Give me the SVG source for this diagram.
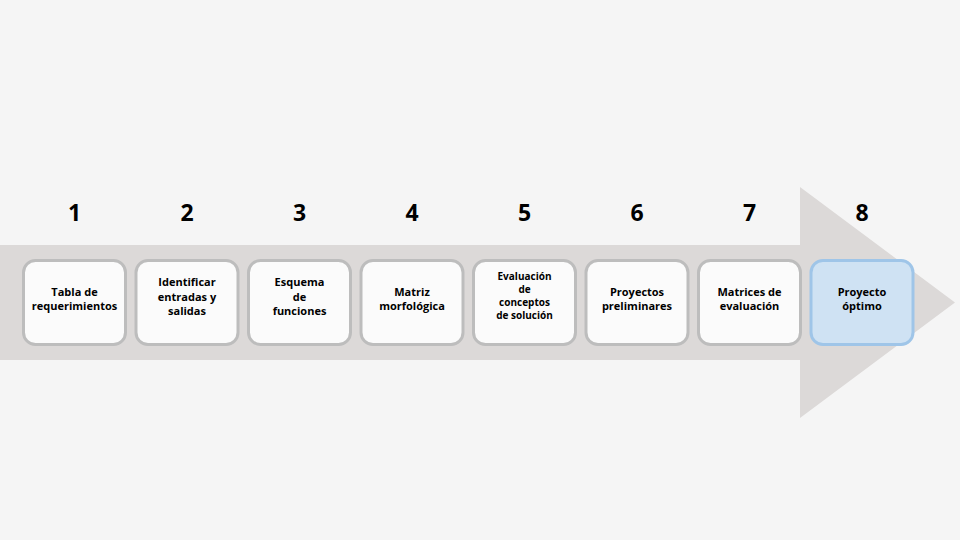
<svg xmlns="http://www.w3.org/2000/svg" width="960" height="540" viewBox="0 0 960 540">
<style>
.box{fill:#fbfbfb;stroke:#bdbdbd;stroke-width:3}
.opt{fill:#cfe2f3;stroke:#9fc5e8;stroke-width:3}
.num{font-family:"Open Sans","DejaVu Sans",sans-serif;font-weight:700;font-size:23px;fill:#000;text-anchor:middle}
.lbl{font-family:"Open Sans","DejaVu Sans",sans-serif;font-weight:700;font-size:11px;fill:#000;text-anchor:middle}
.sm{font-size:10px}
</style>
<rect width="960" height="540" fill="#f5f5f5"/>
<g id="arrow">
<polygon points="0,245 800,245 800,187 955,302.5 800,418 800,360 0,360" fill="#dcd9d8"/>
</g>
<g id="connectors"></g>
<g id="n1"><text class="num" x="74.5" y="221">1</text><rect class="box" x="23.5" y="260.5" width="102" height="84" rx="12"/><text class="lbl" x="74.5" y="296">Tabla de</text><text class="lbl" x="74.5" y="310">requerimientos</text></g>
<g id="n2"><text class="num" x="187" y="221">2</text><rect class="box" x="136" y="260.5" width="102" height="84" rx="12"/><text class="lbl" x="187" y="286">Identificar</text><text class="lbl" x="187" y="301">entradas y</text><text class="lbl" x="187" y="315">salidas</text></g>
<g id="n3"><text class="num" x="299.5" y="221">3</text><rect class="box" x="248.5" y="260.5" width="102" height="84" rx="12"/><text class="lbl" x="299.5" y="286">Esquema</text><text class="lbl" x="299.5" y="301">de</text><text class="lbl" x="299.5" y="315">funciones</text></g>
<g id="n4"><text class="num" x="412" y="221">4</text><rect class="box" x="361" y="260.5" width="102" height="84" rx="12"/><text class="lbl" x="412" y="296">Matriz</text><text class="lbl" x="412" y="310">morfológica</text></g>
<g id="n5"><text class="num" x="524.5" y="221">5</text><rect class="box" x="473.5" y="260.5" width="102" height="84" rx="12"/><text class="lbl sm" x="524.5" y="280">Evaluación</text><text class="lbl sm" x="524.5" y="293">de</text><text class="lbl sm" x="524.5" y="306">conceptos</text><text class="lbl sm" x="524.5" y="319">de solución</text></g>
<g id="n6"><text class="num" x="637" y="221">6</text><rect class="box" x="586" y="260.5" width="102" height="84" rx="12"/><text class="lbl" x="637" y="296">Proyectos</text><text class="lbl" x="637" y="310">preliminares</text></g>
<g id="n7"><text class="num" x="749.5" y="221">7</text><rect class="box" x="698.5" y="260.5" width="102" height="84" rx="12"/><text class="lbl" x="749.5" y="296">Matrices de</text><text class="lbl" x="749.5" y="310">evaluación</text></g>
<g id="n8"><text class="num" x="862" y="221">8</text><rect class="opt" x="811" y="260.5" width="102" height="84" rx="12"/><text class="lbl" x="862" y="296">Proyecto</text><text class="lbl" x="862" y="310">óptimo</text></g>
</svg>
